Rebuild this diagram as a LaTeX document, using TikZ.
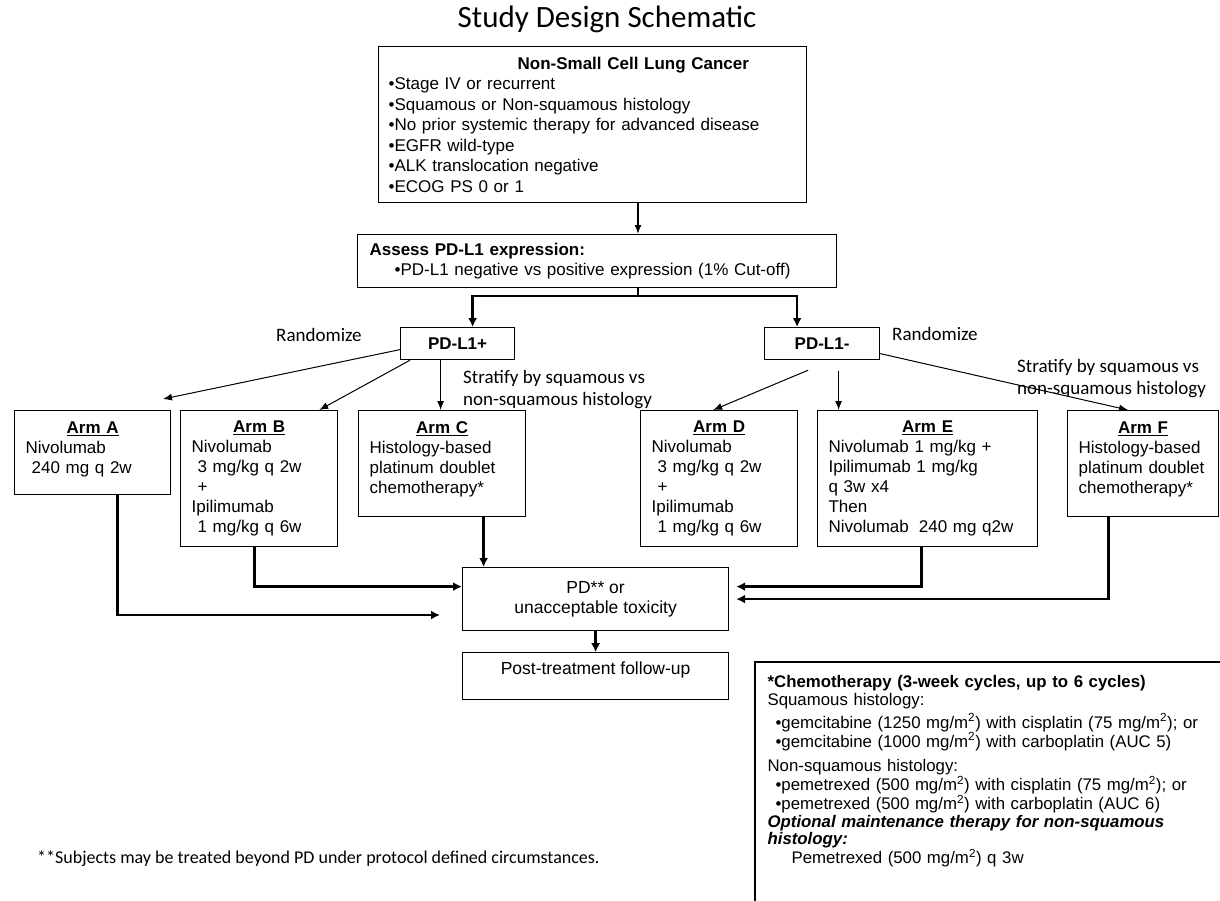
\documentclass[tikz,border=0pt]{standalone}
\usepackage{fontspec}
\setmainfont{Liberation Sans}
\newfontfamily\calibrifont{Carlito}
\usetikzlibrary{arrows.meta,positioning}

\newcommand{\boxfont}{\fontsize{17}{20}\selectfont}
\newcommand{\chemofont}{\fontsize{16.8}{17.5}\selectfont}
\newcommand{\notefont}{\calibrifont\fontsize{19}{22}\selectfont}
\newcommand{\armtitle}[1]{\centerline{\textbf{\underline{#1}}}}

\tikzset{
  box/.style={draw, line width=1.2pt, font=\boxfont, align=left, inner xsep=11pt, inner ysep=4pt, anchor=north west},
  group/.style={draw, line width=1.2pt, font=\boxfont\bfseries, minimum width=114pt, minimum height=32pt, anchor=north west},
  note/.style={font=\notefont, align=left, inner sep=0pt},
  branch/.style={-{Latex[length=9pt,width=7pt]}, line width=1pt},
  flow/.style={-{Latex[length=9pt,width=9pt]}, line width=2.4pt}
}

\begin{document}
\begin{tikzpicture}[x=1pt, y=-1pt]
\useasboundingbox (0,0) rectangle (1220,900);

\node[anchor=base, inner sep=0pt, font=\calibrifont\fontsize{31}{34}\selectfont] (title) at (607,27) {Study Design Schematic};

% eligibility and PD-L1 assessment
\node[box, inner xsep=10pt, text width=408pt, minimum height=156pt, font=\fontsize{17}{20.5}\selectfont] (nsclc) at (378,46) {%
\hspace*{129pt}\textbf{Non-Small Cell Lung Cancer}\\
•Stage IV or recurrent\\
•Squamous or Non-squamous histology\\
•No prior systemic therapy for advanced disease\\
•EGFR wild-type\\
•ALK translocation negative\\
•ECOG PS 0 or 1};
\node[box, inner xsep=12pt, text width=455pt, minimum height=53pt] (assess) at (357,234) {%
\textbf{Assess PD-L1 expression:}\\
\hspace*{25pt}•PD-L1 negative vs positive expression (1\% Cut-off)};

\node[group] (pdpos) at (400,327) {PD-L1+};
\node[group, minimum width=115pt] (pdneg) at (764,327) {PD-L1-};

\node[note, anchor=west] (randpos) at (276,335) {Randomize};
\node[note, anchor=west] (randneg) at (892,334) {Randomize};
\node[note, anchor=north west] (stratpos) at (463,370) {Stratify by squamous vs\\non-squamous histology};
\node[note, anchor=north west] (stratneg) at (1017,359) {Stratify by squamous vs\\non-squamous histology};

% treatment arms
\node[box, text width=134pt, minimum height=84pt, text depth=50pt] (armA) at (14,410) {\armtitle{Arm A}
Nivolumab\\ \hspace*{6pt}240 mg q 2w};
\node[box, text width=135pt, minimum height=136pt] (armB) at (180,410) {\armtitle{Arm B}
Nivolumab\\ \hspace*{6pt}3 mg/kg q 2w\\ \hspace*{6pt}+\\ Ipilimumab\\ \hspace*{6pt}1 mg/kg q 6w};
\node[box, text width=145pt, minimum height=106pt, text depth=72pt] (armC) at (358,410) {\armtitle{Arm C}
Histology-based\\ platinum doublet\\ chemotherapy*};
\node[box, text width=135pt, minimum height=136pt] (armD) at (640,410) {\armtitle{Arm D}
Nivolumab\\ \hspace*{6pt}3 mg/kg q 2w\\ \hspace*{6pt}+\\ Ipilimumab\\ \hspace*{6pt}1 mg/kg q 6w};
\node[box, text width=198pt, minimum height=136pt] (armE) at (817,410) {\armtitle{Arm E}
Nivolumab 1 mg/kg +\\ Ipilimumab 1 mg/kg\\ q 3w x4\\ Then\\ Nivolumab\hspace{10pt}240 mg q2w};
\node[box, text width=129pt, minimum height=106pt, text depth=72pt] (armF) at (1067,410) {\armtitle{Arm F}
Histology-based\\ platinum doublet\\ chemotherapy*};

\node[box, align=center, inner xsep=0pt, minimum width=266pt, minimum height=63pt, font=\fontsize{17.5}{20}\selectfont] (pd) at (462,567) {PD** or\\unacceptable toxicity};
\node[box, align=center, minimum width=266pt, minimum height=47pt, text depth=16pt, font=\fontsize{17.5}{20}\selectfont, below=21pt of pd] (post) {Post-treatment follow-up};

% chemotherapy key
\node[box, draw=none, font=\chemofont, inner xsep=12pt, inner ysep=13pt, text width=455pt] (chemo) at (755,662) {%
\textbf{*Chemotherapy (3-week cycles, up to 6 cycles)}\\
Squamous histology:\\[4pt]
\hspace*{8pt}•gemcitabine (1250 mg/m\textsuperscript{2}) with cisplatin (75 mg/m\textsuperscript{2}); or\\
\hspace*{8pt}•gemcitabine (1000 mg/m\textsuperscript{2}) with carboplatin (AUC 5)\\[7pt]
Non-squamous histology:\\
\hspace*{8pt}•pemetrexed (500 mg/m\textsuperscript{2}) with cisplatin (75 mg/m\textsuperscript{2}); or\\
\hspace*{8pt}•pemetrexed (500 mg/m\textsuperscript{2}) with carboplatin (AUC 6)\\
\textbf{\textit{Optional maintenance therapy for non-squamous}}\\
\textbf{\textit{histology:}}\\
\hspace*{24pt}Pemetrexed (500 mg/m\textsuperscript{2}) q 3w};
\coordinate (pagecorner) at (1226,906);
\draw[line width=1.2pt] (chemo.north west) rectangle (pagecorner);

\node[anchor=base west, inner sep=0pt, font=\calibrifont\fontsize{18}{21}\selectfont] (footnote) at (37,863) {**Subjects may be treated beyond PD under protocol defined circumstances.};

% screening to PD-L1 groups
\coordinate (split) at (638,296);
\draw[branch, line width=1.5pt] (nsclc.south -| split) -- (assess.north -| split);
\draw[line width=2.4pt] (assess.south -| split) -- (split);
\draw[flow] (split) -| ([xshift=15pt]pdpos.north);
\draw[flow] (split) -| ([xshift=-25pt]pdneg.north);

% randomization
\coordinate (tipA) at (163,399);
\draw[branch] ([yshift=-6pt]pdpos.west) -- (tipA);
\draw[branch] ([xshift=10pt]pdpos.south west) -- ([xshift=-19pt]armB.north east);
\draw[branch] ([xshift=-17pt]pdpos.south) -- ([xshift=-17pt]pdpos.south |- armC.north);
\draw[branch] ([xshift=-14pt,yshift=-10pt]pdneg.south) -- ([xshift=-85pt]armD.north east);
\draw[branch] ([xshift=16.5pt,yshift=-11pt]pdneg.south) -- ([xshift=16.5pt]pdneg.south |- armE.north);
\draw[branch] ([yshift=-10pt]pdneg.east) -- ([xshift=61pt]armF.north west);

% arms to end of treatment
\coordinate (tipPD) at (440,615);
\draw[flow] ([xshift=25pt]armA.south) |- (tipPD);
\draw[flow] ([xshift=-4.5pt]armB.south) |- ([yshift=12.5pt]pd.west);
\draw[flow] ([xshift=41.5pt]armC.south) -- ([xshift=41.5pt]armC.south |- pd.north);
\draw[flow] ([xshift=-6pt]armE.south) |- ([xshift=7pt,yshift=12.5pt]pd.east);
\draw[flow] ([xshift=-34.5pt]armF.south) |- ([xshift=7pt]pd.east);
\draw[flow] (pd.south) -- (post.north);
\end{tikzpicture}
\end{document}
